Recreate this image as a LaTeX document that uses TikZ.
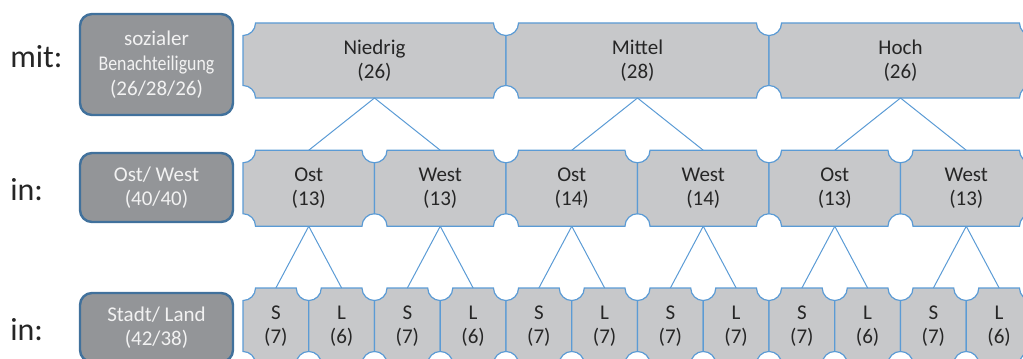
\documentclass[tikz,border=0pt]{standalone}
\usepackage{fontspec}
\setmainfont{Carlito}
\usetikzlibrary{calc,backgrounds}
\definecolor{plqfill}{HTML}{C7C8CA}
\definecolor{plqline}{HTML}{5B9BD5}
\definecolor{catfill}{HTML}{939598}
\definecolor{catline}{HTML}{41719C}
\definecolor{txt}{HTML}{262626}
\tikzset{
		cell/.style={inner sep=0pt, outer sep=0pt, align=center, text=txt, font=\fontsize{15.75}{18}\selectfont},
		cat/.style={draw=catline, fill=catfill, line width=1.8pt, rounded corners=9pt, inner sep=0pt,
			minimum width=114.75pt, align=center, text=white!95!black, font=\fontsize{15.75}{18.5}\selectfont},
		rowlab/.style={anchor=west, inner sep=0pt, text=txt, font=\fontsize{24}{28}\selectfont},
		plq/.style={fill=plqfill, draw=plqline, line width=0.9pt},
		link/.style={draw=plqline, line width=0.75pt}
	}

\begin{document}
\begin{tikzpicture}[x=0.75pt, y=0.75pt] % 1 unit = 1 px of the 1023x358 frame
		\useasboundingbox (0,0) rectangle (1023,358);
		% row titles
		\node[rowlab] (l0) at (10,301) {mit:};
		\node[rowlab] (l1) at (10,168) {in:};
		\node[rowlab] (l2) at (10,28) {in:};
		% the dark category boxes
		\node[cat, minimum height=75.75pt] (c0) at (156.5,293.5) {sozialer\\\scalebox{0.85}[1]{Benachteiligung}\\(26/28/26)};
		\node[cat, minimum height=51.75pt] (c1) at (156.5,170.5) {Ost/ West\\(40/40)};
		\node[cat, minimum height=51.75pt] (c2) at (156.5,30.5) {Stadt/ Land\\(42/38)};
		% level 1, 2 and 3
		\foreach \lab/\num [count=\i from 0] in {Niedrig/26,Mittel/28,Hoch/26}
			\node[cell, minimum width=197.25pt, minimum height=56.25pt] (t\i) at ({374.5+263*\i},297.5) {\lab\\(\num)};
		\foreach \lab/\num [count=\i from 0] in {Ost/13,West/13,Ost/14,West/14,Ost/13,West/13}
			\node[cell, minimum width=98.625pt, minimum height=57pt] (m\i) at ({308.75+131.5*\i},169.75) {\lab\\(\num)};
		\foreach \lab/\num [count=\i from 0] in {S/7,L/6,S/7,L/6,S/7,L/7,S/7,L/7,S/7,L/6,S/7,L/6}
			\node[cell, minimum width=49.3125pt, minimum height=57pt] (b\i) at ({275.875+65.75*\i},32) {\lab\\(\num)};
		% plaque outlines behind the texts (concave corners)
		\begin{scope}[on background layer]
			\foreach \row/\n in {t/2,m/5,b/11}
				\foreach \i in {0,...,\n}
					\path[plq] ($(\row\i.north west)+(9.4pt,0)$) -- ($(\row\i.north east)+(-9.4pt,0)$)
						arc[start angle=180, end angle=270, radius=9.4pt] -- ($(\row\i.south east)+(0,9.4pt)$)
						arc[start angle=90, end angle=180, radius=9.4pt] -- ($(\row\i.south west)+(9.4pt,0)$)
						arc[start angle=0, end angle=90, radius=9.4pt] -- ($(\row\i.north west)+(0,-9.4pt)$)
						arc[start angle=270, end angle=360, radius=9.4pt] -- cycle;
		\end{scope}
		% tree lines
		\foreach \i [evaluate=\i as \p using {int(\i/2)}] in {0,...,5}
			\draw[link] (t\p.south) -- (m\i.north);
		\foreach \i [evaluate=\i as \p using {int(\i/2)}] in {0,...,11}
			\draw[link] (m\p.south) -- (b\i.north);
	\end{tikzpicture}
\end{document}
